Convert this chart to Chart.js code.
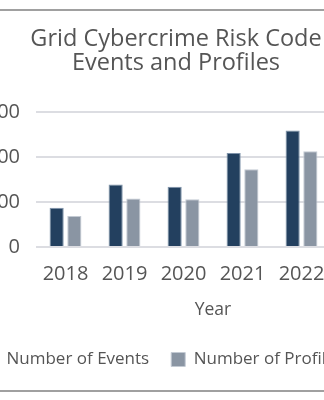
<!DOCTYPE html>
<html>
<head>
<meta charset="utf-8">
<script src="https://cdn.jsdelivr.net/npm/chart.js@4/dist/chart.umd.min.js"></script>
<style>
  html, body { margin: 0; padding: 0; background: #fff; overflow: hidden; }
  #frame {
    position: absolute; top: 9px; left: -43px; width: 438px; height: 379px;
    border-top: 2px solid #a0a0a0; border-bottom: 2px solid #a0a0a0;
  }
  #chart { display: block; }
</style>
</head>
<body>
<div id="frame"><canvas id="chart" width="438" height="379"></canvas></div>
<script>
// Yearly counts of grid cybercrime risk code events and profiles
const years = ['2018', '2019', '2020', '2021', '2022', ''];
const events = [87, 139, 134, 209, 259];
const profiles = [69, 108, 106, 173, 213];
const yTicks = [0, 100, 200, 300];

const textColor = '#555555';
const fontFamily = '"Open Sans", sans-serif';

new Chart(document.getElementById('chart'), {
  type: 'bar',
  data: {
    labels: years,
    datasets: [
      { label: 'Number of Events', data: events, backgroundColor: '#23405f',
        borderColor: '#7f93aa', borderWidth: 1, categoryPercentage: 0.6, barPercentage: 0.8 },
      { label: 'Number of Profiles', data: profiles, backgroundColor: '#8a95a3',
        borderColor: '#c3cad3', borderWidth: 1, categoryPercentage: 0.6, barPercentage: 0.8 }
    ]
  },
  options: {
    responsive: false,
    animation: false,
    layout: { padding: { left: 5, right: 5, top: 8, bottom: 12 } },
    plugins: {
      title: {
        display: true,
        text: ['Grid Cybercrime Risk Code', 'Events and Profiles'],
        color: textColor,
        font: { family: fontFamily, size: 23.5, weight: 'normal', lineHeight: 1.0 },
        padding: { top: 9, bottom: 37 }
      },
      legend: {
        position: 'bottom',
        align: 'start',
        labels: {
          color: textColor,
          font: { family: fontFamily, size: 17 },
          boxWidth: 14, boxHeight: 14, padding: 22
        }
      },
      tooltip: { enabled: false }
    },
    scales: {
      x: {
        grid: { display: false },
        border: { display: false },
        ticks: { color: textColor, font: { family: fontFamily, size: 20 }, padding: 7, maxRotation: 0 },
        title: { display: true, text: 'Year', color: textColor,
                 font: { family: fontFamily, size: 17.5 }, padding: { top: 7, bottom: 8 } }
      },
      y: {
        min: 0, max: 300,
        afterBuildTicks: (scale) => { scale.ticks = yTicks.map(v => ({ value: v })); },
        afterFit: (scale) => { scale.width = 74; },
        grid: { color: '#dcdde2', lineWidth: 2, drawTicks: false },
        border: { display: false },
        ticks: { color: textColor, font: { family: fontFamily, size: 20 }, padding: 16 }
      }
    }
  }
});
</script>
</body>
</html>
